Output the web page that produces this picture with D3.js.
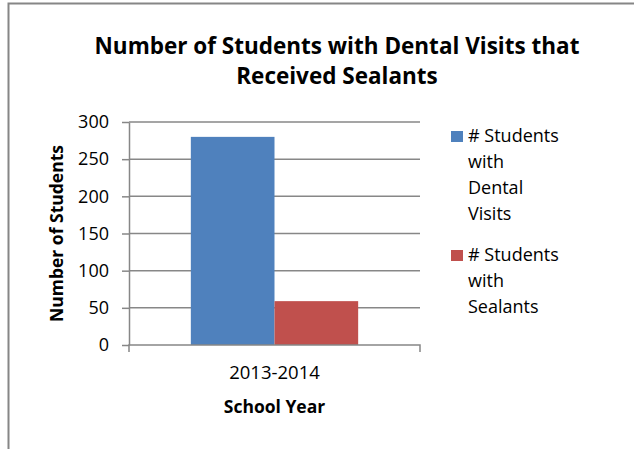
<!DOCTYPE html>
<html>
<head>
<meta charset="utf-8">
<script src="https://cdn.jsdelivr.net/npm/d3@7"></script>
<style>
  body { margin: 0; background: #fff; }
  svg text { font-family: "Open Sans", sans-serif; fill: #000; }
</style>
</head>
<body>
<div id="chart"></div>
<script>
"use strict";

const categories = ["2013-2014"];
const seriesNames = ["# Students with Dental Visits", "# Students with Sealants"];
const dentalVisits = [280];
const sealants = [59];
const yTicks = [0, 50, 100, 150, 200, 250, 300];
const legendLines = [["# Students", "with", "Dental", "Visits"], ["# Students", "with", "Sealants"]];
const colors = ["#4F81BD", "#C0504D"];

const width = 634, height = 449;
const margin = { top: 122, right: 214, bottom: 104, left: 129 };

const svg = d3.select("#chart").append("svg")
  .attr("width", width)
  .attr("height", height);

// outer border (only top and left show in the picture)
svg.append("path")
  .attr("d", `M8.5,${height} V3.5 H${width}`)
  .attr("fill", "none")
  .attr("stroke", "#868686")
  .attr("stroke-width", 2);

const x0 = d3.scaleBand()
  .domain(categories)
  .range([margin.left, width - margin.right]);

// bars take roughly 57% of the category band, centered
const groupW = x0.bandwidth() * 0.575;
const x1 = d3.scaleBand()
  .domain(seriesNames)
  .range([(x0.bandwidth() - groupW) / 2, (x0.bandwidth() + groupW) / 2]);

const y = d3.scaleLinear()
  .domain([0, 300])
  .range([height - margin.bottom, margin.top]);

// gridlines
svg.append("g")
  .selectAll("line")
  .data(yTicks.filter((d) => d > 0))
  .join("line")
  .attr("x1", margin.left)
  .attr("x2", width - margin.right)
  .attr("y1", (d) => y(d))
  .attr("y2", (d) => y(d))
  .attr("stroke", "#878787")
  .attr("stroke-width", 1.5);

// y axis
const yAxis = d3.axisLeft(y).tickValues(yTicks).tickSizeInner(7).tickSizeOuter(0).tickPadding(13);
const gy = svg.append("g")
  .attr("transform", `translate(${margin.left},0)`)
  .call(yAxis);
gy.select(".domain").attr("stroke", "#878787").attr("stroke-width", 1.5);
gy.selectAll(".tick line").attr("stroke", "#878787").attr("stroke-width", 1.5);
gy.selectAll(".tick text").attr("font-size", 18).attr("font-family", "Open Sans").attr("fill", "#000");

// bars
const data = categories.map((c, i) => ({ cat: c, vals: [dentalVisits[i], sealants[i]] }));
svg.append("g")
  .selectAll("g")
  .data(data)
  .join("g")
  .attr("transform", (d) => `translate(${x0(d.cat)},0)`)
  .selectAll("rect")
  .data((d) => d.vals.map((v, i) => ({ v, name: seriesNames[i], i })))
  .join("rect")
  .attr("x", (d) => x1(d.name))
  .attr("width", x1.bandwidth())
  .attr("y", (d) => y(d.v))
  .attr("height", (d) => y(0) - y(d.v))
  .attr("fill", (d) => colors[d.i]);

// x axis
const xAxis = d3.axisBottom(x0).tickSize(0).tickPadding(21);
const gx = svg.append("g")
  .attr("transform", `translate(0,${y(0)})`)
  .call(xAxis);
gx.select(".domain").remove();
gx.append("path")
  .attr("d", `M${margin.left},7 V0 H${width - margin.right} V7`)
  .attr("fill", "none")
  .attr("stroke", "#878787")
  .attr("stroke-width", 1.5);
gx.selectAll(".tick text").attr("font-size", 18.5).attr("font-family", "Open Sans").attr("fill", "#000");

// titles
svg.append("text")
  .attr("x", 337).attr("y", 54)
  .attr("text-anchor", "middle")
  .attr("font-size", 22.5).attr("font-weight", "bold")
  .text("Number of Students with Dental Visits that");
svg.append("text")
  .attr("x", 337).attr("y", 84)
  .attr("text-anchor", "middle")
  .attr("font-size", 22.5).attr("font-weight", "bold")
  .text("Received Sealants");

svg.append("text")
  .attr("x", x0(categories[0]) + x0.bandwidth() / 2).attr("y", 413)
  .attr("text-anchor", "middle")
  .attr("font-size", 17.5).attr("font-weight", "bold")
  .text("School Year");

svg.append("text")
  .attr("transform", `translate(63,${(margin.top + y(0)) / 2}) rotate(-90)`)
  .attr("text-anchor", "middle")
  .attr("font-size", 17.5).attr("font-weight", "bold")
  .text("Number of Students");

// legend
const legendTop = [131, 250];
const legend = svg.append("g").selectAll("g")
  .data(legendLines)
  .join("g")
  .attr("transform", (d, i) => `translate(451,${legendTop[i]})`);
legend.append("rect")
  .attr("width", 12).attr("height", 11)
  .attr("fill", (d, i) => colors[i]);
legend.selectAll("text")
  .data((d) => d)
  .join("text")
  .attr("x", 17)
  .attr("y", (d, j) => 11 + j * 26)
  .attr("font-size", 18)
  .text((d) => d);
</script>
</body>
</html>
